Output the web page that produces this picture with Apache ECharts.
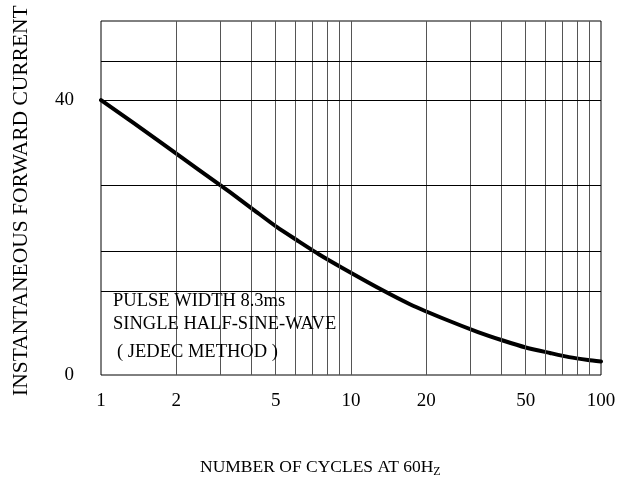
<!DOCTYPE html>
<html>
<head>
<meta charset="utf-8">
<script src="https://cdn.jsdelivr.net/npm/echarts@6/dist/echarts.min.js"></script>
<style>
html,body{margin:0;padding:0;background:#fff;}
#c{width:635px;height:483px;}
</style>
</head>
<body>
<div id="c"></div>
<script>
// Data
var cycles  = [1, 1.75, 2.47, 3.28, 4.09, 5.06, 6.14, 7.52, 9.2, 13.1, 17.2, 24.2, 32.2, 40.5, 50, 62.5, 74.5, 88.7, 100];
var current = [40, 33.75, 29.8, 26.6, 24.0, 21.5, 19.5, 17.45, 15.6, 12.5, 10.3, 8.0, 6.25, 5.02, 4.0, 3.2, 2.6, 2.18, 1.96];
var xTickLabels = [1, 2, 5, 10, 20, 50, 100];
var xGridValues = [2, 3, 4, 5, 6, 7, 8, 9, 10, 20, 30, 40, 50, 60, 70, 80, 90];
var yGridValues = [12.2, 18, 27.6, 40, 45.7];
var yMax = 51.5;
var noteLines = ['PULSE WIDTH 8.3ms', 'SINGLE HALF-SINE-WAVE', '( JEDEC METHOD )'];
var noteBox = [[1.09, 12.65], [10.1, 1.16]];

var FONT = '"Liberation Serif", "Times New Roman", serif';
var chart = echarts.init(document.getElementById('c'), null, {renderer: 'canvas'});

var pts = cycles.map(function (x, i) { return [x, current[i]]; });

chart.setOption({
  animation: false,
  backgroundColor: '#fff',
  grid: {left: 101, right: 34, top: 21, bottom: 108, show: true, borderColor: '#000', borderWidth: 1, backgroundColor: 'transparent'},
  xAxis: {
    type: 'log', logBase: 10, min: 1, max: 100,
    axisLine: {show: false}, axisTick: {show: false}, splitLine: {show: false}, minorSplitLine: {show: false},
    axisLabel: {customValues: xTickLabels, color: '#000', fontFamily: FONT, fontSize: 19, margin: 17,
      formatter: function (v) { return String(Math.round(v)); }}
  },
  yAxis: {
    type: 'value', min: 0, max: yMax, interval: 40,
    axisLine: {show: false}, axisTick: {show: false}, splitLine: {show: false},
    axisLabel: {color: '#000', fontFamily: FONT, fontSize: 19, margin: 27, showMaxLabel: false}
  },
  graphic: [
    {type: 'text', rotation: Math.PI / 2, x: 10, y: 396, z: 100,
      style: {text: 'INSTANTANEOUS FORWARD CURRENT', fill: '#000', font: '21.5px ' + FONT}},
    {type: 'text', x: 200, y: 457, z: 100,
      style: {text: '{a|NUMBER OF CYCLES AT 60H}{b|Z}', fill: '#000',
        rich: {a: {fontFamily: FONT, fontSize: 17.5, fill: '#000', lineHeight: 20},
               b: {fontFamily: FONT, fontSize: 12, fill: '#000', padding: [9, 0, 0, 0], lineHeight: 20}}}},
    {type: 'text', x: 113, y: 292, z: 100, style: {text: noteLines[0], fill: '#000', font: '18.5px ' + FONT}},
    {type: 'text', x: 113, y: 315, z: 100, style: {text: noteLines[1], fill: '#000', font: '18.5px ' + FONT}},
    {type: 'text', x: 117, y: 343, z: 100, style: {text: noteLines[2], fill: '#000', font: '18.5px ' + FONT}}
  ],
  series: [
    {
      type: 'line', data: [], z: 1, silent: true,
      markLine: {
        silent: true, symbol: 'none', label: {show: false}, animation: false,
        data: xGridValues.map(function (v) { return {xAxis: v, lineStyle: {color: '#555', width: 1, type: 'solid'}}; })
          .concat(yGridValues.map(function (v) { return {yAxis: v, lineStyle: {color: '#000', width: 1, type: 'solid'}}; }))
      }
    },
    {
      type: 'line', data: [], z: 2, silent: true,
      markArea: {silent: true, itemStyle: {color: '#fff', opacity: 1}, label: {show: false},
        data: [[{coord: noteBox[0]}, {coord: noteBox[1]}]]}
    },
    {
      type: 'line', data: pts, z: 3, smooth: 0.2, showSymbol: false, symbol: 'none',
      lineStyle: {color: '#000', width: 4, join: 'round', cap: 'round'}
    }
  ]
});
</script>
</body>
</html>
